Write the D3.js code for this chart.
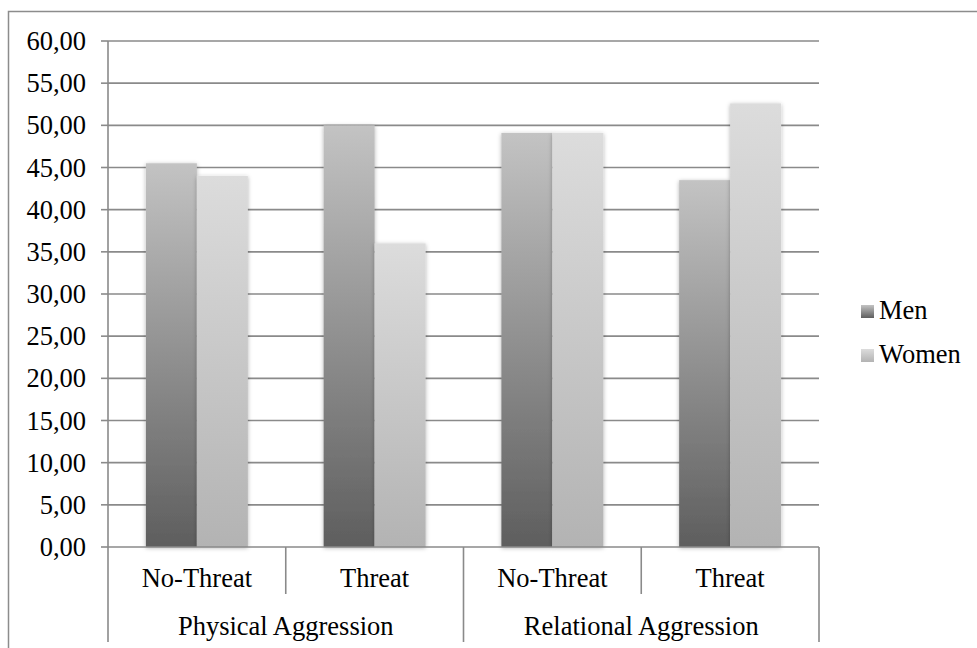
<!DOCTYPE html>
<html>
<head>
<meta charset="utf-8">
<script src="https://cdn.jsdelivr.net/npm/d3@7"></script>
</head>
<body style="margin:0">
<svg id="chart" width="977" height="648"></svg>
<script>
// Aggression scores by condition, split by gender
const groups = ["Physical Aggression", "Relational Aggression"];
const conditions = ["No-Threat", "Threat", "No-Threat", "Threat"];
const series = ["Men", "Women"];
const men = [45.5, 50.0, 49.1, 43.5];
const women = [44.0, 36.0, 49.1, 52.6];
const yTicks = [0, 5, 10, 15, 20, 25, 30, 35, 40, 45, 50, 55, 60];

const svg = d3.select("#chart");
const W = 977, H = 648;
const plot = { left: 108, right: 819, top: 41, bottom: 547 };
const gridColor = "#8a8a8a";
const FONT = "Liberation Serif";
const fontSize = 26.5;

// Gradients: per-bar vertical fades (dark at the base, light at the top)
const defs = svg.append("defs");
function grad(id, bottom, top) {
  const g = defs.append("linearGradient").attr("id", id)
    .attr("x1", 0).attr("y1", 1).attr("x2", 0).attr("y2", 0);
  g.append("stop").attr("offset", "0%").attr("stop-color", bottom);
  g.append("stop").attr("offset", "100%").attr("stop-color", top);
}
grad("g-men", "#5e5e5e", "#c3c3c3");
grad("g-women", "#b3b3b3", "#dcdcdc");
const fill = { Men: "url(#g-men)", Women: "url(#g-women)" };

// Soft shadow around the bars
const f = defs.append("filter").attr("id", "soft")
  .attr("x", "-20%").attr("y", "-10%").attr("width", "140%").attr("height", "120%");
f.append("feDropShadow").attr("dx", 0).attr("dy", 1)
  .attr("stdDeviation", 2).attr("flood-color", "#000").attr("flood-opacity", 0.3);

// Outer frame
svg.append("rect")
  .attr("x", 8.5).attr("y", 11.5)
  .attr("width", W + 10).attr("height", H + 10)
  .attr("fill", "none").attr("stroke", "#8c8c8c").attr("stroke-width", 1.5);

// Scales
const x = d3.scaleBand().domain(d3.range(conditions.length))
  .range([plot.left, plot.right]).paddingInner(0).paddingOuter(0);
const xs = d3.scaleBand().domain(series)
  .range([0, x.bandwidth()]).paddingInner(0).paddingOuter(0.743);
const y = d3.scaleLinear().domain([0, 60]).range([plot.bottom, plot.top]);

// Horizontal gridlines
svg.append("g").selectAll("line").data(yTicks.filter(d => d > 0)).join("line")
  .attr("x1", plot.left).attr("x2", plot.right)
  .attr("y1", d => y(d)).attr("y2", d => y(d))
  .attr("stroke", gridColor).attr("stroke-width", 1.6);

// Y axis: tick marks and labels
svg.append("g").selectAll("line").data(yTicks).join("line")
  .attr("x1", plot.left - 7).attr("x2", plot.left)
  .attr("y1", d => y(d)).attr("y2", d => y(d))
  .attr("stroke", gridColor).attr("stroke-width", 1.6);
svg.selectAll("text.ytick").data(yTicks).join("text")
  .attr("class", "ytick")
  .attr("x", plot.left - 22)
  .attr("y", d => y(d) + 9)
  .attr("text-anchor", "end")
  .attr("font-size", fontSize)
  .attr("font-family", FONT)
  .text(d => d3.format(".2f")(d).replace(".", ","));

// Bars
const rows = conditions.map((c, i) => ({ i, Men: men[i], Women: women[i] }));
const barG = svg.append("g");
rows.forEach(r => {
  series.forEach(s => {
    barG.append("rect")
      .attr("x", x(r.i) + xs(s))
      .attr("y", y(r[s]))
      .attr("width", xs.bandwidth())
      .attr("height", y(0) - y(r[s]))
      .attr("fill", fill[s])
      .attr("filter", "url(#soft)");
  });
});

// Left axis line and category axis
const axisG = svg.append("g").attr("stroke", gridColor).attr("stroke-width", 1.6);
axisG.append("line").attr("x1", plot.left).attr("x2", plot.left)
  .attr("y1", plot.top).attr("y2", 642);
axisG.append("line").attr("x1", plot.left).attr("x2", plot.right)
  .attr("y1", y(0)).attr("y2", y(0));
// Separators between conditions (short) and between groups (full depth)
d3.range(1, conditions.length).forEach(i => {
  const full = i % 2 === 0;
  axisG.append("line").attr("x1", x(i)).attr("x2", x(i))
    .attr("y1", y(0)).attr("y2", full ? 642 : 594);
});
axisG.append("line").attr("x1", plot.right).attr("x2", plot.right)
  .attr("y1", y(0)).attr("y2", 642);

// Condition labels
svg.selectAll("text.cond").data(conditions).join("text")
  .attr("class", "cond")
  .attr("x", (d, i) => x(i) + x.bandwidth() / 2)
  .attr("y", 587)
  .attr("text-anchor", "middle")
  .attr("font-size", fontSize)
  .attr("font-family", FONT)
  .text(d => d);

// Group labels
svg.selectAll("text.grp").data(groups).join("text")
  .attr("class", "grp")
  .attr("x", (d, i) => (x(i * 2) + x(i * 2 + 1) + x.bandwidth()) / 2)
  .attr("y", 635)
  .attr("text-anchor", "middle")
  .attr("font-size", fontSize)
  .attr("font-family", FONT)
  .text(d => d);

// Legend
const legendY = [319, 363];
svg.selectAll("rect.key").data(series).join("rect")
  .attr("class", "key")
  .attr("x", 861).attr("y", (d, i) => legendY[i] - 14)
  .attr("width", 13).attr("height", 13)
  .attr("fill", d => fill[d]);
svg.selectAll("text.key").data(series).join("text")
  .attr("class", "key")
  .attr("x", 879).attr("y", (d, i) => legendY[i])
  .attr("font-size", fontSize)
  .attr("font-family", FONT)
  .text(d => d);
</script>
</body>
</html>
